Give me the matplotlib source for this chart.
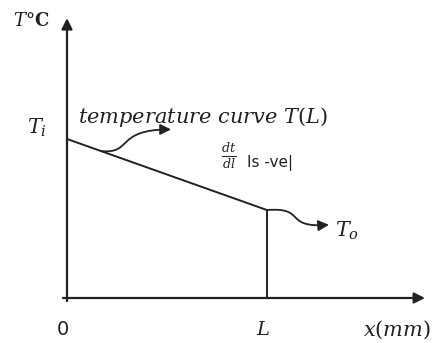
import matplotlib.pyplot as plt
from matplotlib.patches import FancyArrowPatch
from matplotlib.path import Path

plt.rcParams['mathtext.fontset'] = 'dejavuserif'

# schematic values (L = 1, Ti = 1)
x_pts = [0.0, 1.0]
T_pts = [1.0, 0.553]
x_ticks = [0.0, 1.0]
x_ticklabels = ['0', '$L$']

fig = plt.figure(figsize=(4.33, 3.43), dpi=100)
ax = fig.add_axes([0, 0, 1, 1])
ax.set_xlim(-0.335, 1.83)
ax.set_ylim(-0.283, 1.874)
ax.axis('off')

col = '#222222'
serif = 'DejaVu Serif'

# axes with arrow heads
ax.annotate('', xy=(1.79, 0.0), xytext=(-0.02, 0.0),
            arrowprops=dict(arrowstyle='-|>', color=col, lw=1.6,
                            mutation_scale=16, shrinkA=0, shrinkB=0))
ax.annotate('', xy=(0.0, 1.76), xytext=(0.0, -0.02),
            arrowprops=dict(arrowstyle='-|>', color=col, lw=1.6,
                            mutation_scale=16, shrinkA=0, shrinkB=0))

# temperature line and drop at L
ax.plot(x_pts, T_pts, color=col, lw=1.4)
ax.plot([x_pts[1], x_pts[1]], [0, T_pts[1]], color=col, lw=1.4)

# curly arrows
def curly(p0, c1, c2, p1):
    path = Path([p0, c1, c2, p1], [Path.MOVETO, Path.CURVE4, Path.CURVE4, Path.CURVE4])
    ax.add_patch(FancyArrowPatch(path=path, arrowstyle='-|>', color=col, lw=1.3,
                                 mutation_scale=16))

x0 = 0.17
y0 = T_pts[0] + (T_pts[1] - T_pts[0]) * x0
curly((x0, y0), (0.33, y0 - 0.02), (0.24, 1.06), (0.52, 1.06))
curly((x_pts[1], T_pts[1]), (1.2, T_pts[1] + 0.02), (1.08, 0.44), (1.31, 0.46))

# labels
ax.text(-0.15, 1.07, '$T_i$', fontsize=15, ha='center', va='center', color=col)
ax.text(1.40, 0.42, '$T_o$', fontsize=15, ha='center', va='center', color=col)
ax.text(-0.18, 1.74, '$T$°C', fontsize=13, family=serif, fontweight='bold',
        ha='center', va='center', color=col)
ax.text(0.055, 1.14, 'temperature curve $T(L)$', fontsize=15, style='italic',
        family=serif, ha='left', va='center', color=col)
ax.text(0.81, 0.89, r'$\frac{dt}{dl}$', fontsize=13, ha='center', va='center', color=col)
ax.text(0.9, 0.85, 'Is -ve|', fontsize=11, ha='left', va='center', color=col)

for xt, lab in zip(x_ticks, x_ticklabels):
    ax.text(xt - 0.02, -0.2, lab, fontsize=14, ha='center', va='center', color=col)
ax.text(1.65, -0.2, '$x(mm)$', fontsize=15, ha='center', va='center', color=col)

fig.savefig('out.png', dpi=100)
